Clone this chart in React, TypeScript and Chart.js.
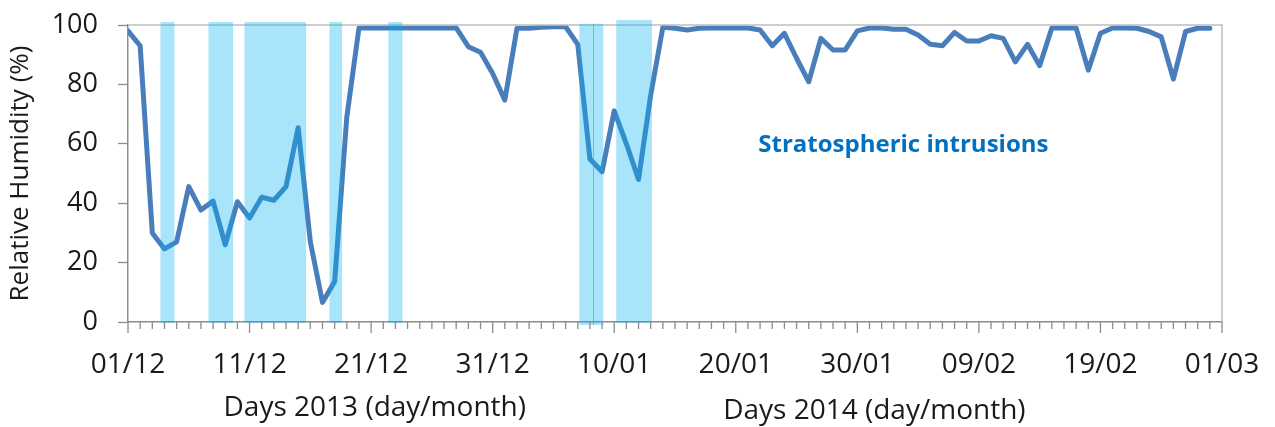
import { useEffect, useRef } from 'react';
import { Chart, registerables } from 'chart.js';

Chart.register(...registerables);

// ---- Data ----
const xTickLabels = ['01/12', '11/12', '21/12', '31/12', '10/01', '20/01', '30/01', '09/02', '19/02', '01/03'];
const yTickValues = [0, 20, 40, 60, 80, 100];

// Daily relative humidity (%), 01/12/2013 .. 28/02/2014
const humidity = [
  98, 93, 30, 24.6, 27, 45.6, 37.7, 40.7, 26, 40.5,
  35, 42, 41, 45.6, 65.4, 27, 6.6, 13.6, 69, 99,
  99, 99, 99, 99, 99, 99, 99, 99, 92.7, 90.8,
  83.7, 74.7, 98.9, 98.9, 99.2, 99.4, 99.4, 93.5, 54.9, 50.6,
  71.1, 60, 48, 76.4, 99.2, 98.9, 98.3, 98.9, 99, 99,
  99, 99, 98.3, 93, 97.2, 88.8, 80.9, 95.5, 91.6, 91.6,
  98, 99, 99, 98.6, 98.6, 96.6, 93.5, 93, 97.5, 94.6,
  94.6, 96.4, 95.5, 87.6, 93.5, 86.3, 99, 99, 99, 84.8,
  97.2, 99, 99, 98.9, 97.8, 96, 81.8, 97.8, 98.9, 98.9,
];

// Stratospheric intrusion periods (in days since 01/12/2013)
const bandStart = [2.67, 6.62, 9.58, 16.57, 21.42, 37.13, 40.17];
const bandEnd = [3.82, 8.65, 14.65, 17.61, 22.57, 39.1, 43.1];
const bandTop = [101, 101, 101, 101, 101, 100.4, 101.7];
const bandBottom = [-0.3, -0.3, -0.3, -0.3, -0.3, -1, -0.3];
const bandDividers = [38.22];

const annotationText = 'Stratospheric intrusions';
const annotationDay = 51.85;
const annotationValue = 59.5;

const xTitles = ['Days 2013 (day/month)', 'Days 2014 (day/month)'];
const xTitleDays = [20.3, 61.4];
const xTitleOffsets = [86, 89];
const yTitle = 'Relative Humidity (%)';

const FONT = "'Open Sans', sans-serif";
const TEXT = '#1a1a1a';

const overlayPlugin = {
  id: 'overlay',
  afterDatasetsDraw(chart: any) {
    const { ctx, chartArea, scales } = chart;
    const xs = scales.x;
    const ys = scales.y;
    const { left, right, top, bottom } = chartArea;
    ctx.save();

    // plot-area border (top & right)
    ctx.strokeStyle = '#BFBFBF';
    ctx.lineWidth = 1.5;
    ctx.beginPath();
    ctx.moveTo(left, top);
    ctx.lineTo(right, top);
    ctx.lineTo(right, bottom);
    ctx.stroke();

    // intrusion bands (drawn over the line, semi-transparent)
    ctx.fillStyle = 'rgba(0,176,240,0.34)';
    bandStart.forEach((s, i) => {
      const x0 = xs.getPixelForValue(s);
      const x1 = xs.getPixelForValue(bandEnd[i]);
      const y0 = ys.getPixelForValue(bandTop[i]);
      const y1 = ys.getPixelForValue(bandBottom[i]);
      ctx.fillRect(x0, y0, x1 - x0, y1 - y0);
    });
    ctx.strokeStyle = 'rgba(0,176,240,0.55)';
    ctx.lineWidth = 1;
    bandDividers.forEach((d) => {
      const px = Math.round(xs.getPixelForValue(d)) + 0.5;
      ctx.beginPath();
      ctx.moveTo(px, ys.getPixelForValue(100.4));
      ctx.lineTo(px, ys.getPixelForValue(-1));
      ctx.stroke();
    });

    // x-axis tick marks: daily minor, 10-day major
    ctx.strokeStyle = '#8C8C8C';
    ctx.lineWidth = 1.3;
    for (let d = 0; d <= 90; d++) {
      const px = xs.getPixelForValue(d);
      const len = d % 10 === 0 ? 11 : 7;
      ctx.beginPath();
      ctx.moveTo(px, bottom);
      ctx.lineTo(px, bottom + len);
      ctx.stroke();
    }

    // annotation
    ctx.fillStyle = '#0070C0';
    ctx.font = `bold 24px ${FONT}`;
    ctx.textAlign = 'left';
    ctx.textBaseline = 'middle';
    ctx.fillText(annotationText, xs.getPixelForValue(annotationDay), ys.getPixelForValue(annotationValue));

    // x-axis titles
    ctx.fillStyle = TEXT;
    ctx.font = `28px ${FONT}`;
    ctx.textAlign = 'center';
    xTitles.forEach((t, i) => {
      ctx.fillText(t, xs.getPixelForValue(xTitleDays[i]), bottom + xTitleOffsets[i]);
    });
    ctx.restore();
  },
};

export default function App() {
  const canvasRef = useRef<HTMLCanvasElement | null>(null);

  useEffect(() => {
    const canvas = canvasRef.current;
    if (!canvas) return;
    const chart = new Chart(canvas, {
      type: 'line',
      data: {
        datasets: [
          {
            data: humidity.map((v, i) => ({ x: i, y: v })),
            borderColor: '#4A7EBB',
            borderWidth: 5,
            pointRadius: 0,
            tension: 0,
            borderJoinStyle: 'round',
            borderCapStyle: 'round',
            fill: false,
          },
        ],
      },
      options: {
        animation: false,
        responsive: false,
        devicePixelRatio: 1,
        layout: { padding: { left: 0, top: 25, right: 53, bottom: 0 } },
        plugins: { legend: { display: false }, tooltip: { enabled: false } },
        scales: {
          x: {
            type: 'linear',
            min: 0,
            max: 90,
            afterFit: (s: any) => {
              s.height = 105;
              s.paddingLeft = 0;
              s.paddingRight = 0;
            },
            afterBuildTicks: (s: any) => {
              const t = [];
              for (let i = 0; i < xTickLabels.length; i++) t.push({ value: i * 10 });
              s.ticks = t;
            },
            ticks: {
              autoSkip: false,
              maxRotation: 0,
              padding: 26,
              color: TEXT,
              font: { family: FONT, size: 28 },
              callback: (v: any) => xTickLabels[Math.round(v / 10)] ?? '',
            },
            grid: { drawOnChartArea: false, drawTicks: false },
            border: { display: true, color: '#8C8C8C', width: 1.5 },
          },
          y: {
            min: 0,
            max: 100,
            afterFit: (s: any) => {
              s.width = 128;
              s.paddingTop = 0;
              s.paddingBottom = 0;
            },
            afterBuildTicks: (s: any) => { s.ticks = yTickValues.map((v) => ({ value: v })); },
            ticks: {
              padding: 20,
              color: TEXT,
              font: { family: FONT, size: 27 },
            },
            grid: { drawOnChartArea: false, drawTicks: true, tickLength: 10, tickColor: '#8C8C8C', tickWidth: 1.3 },
            border: { display: true, color: '#8C8C8C', width: 1.5 },
            title: {
              display: true,
              text: yTitle,
              color: TEXT,
              font: { family: FONT, size: 26 },
              padding: { top: 5, bottom: 0 },
            },
          },
        },
      },
      plugins: [overlayPlugin],
    });
    return () => chart.destroy();
  }, []);

  return (
    <div style={{ position: 'absolute', left: 0, top: 0, width: 1275, height: 427, background: '#fff' }}>
      <canvas ref={canvasRef} width={1275} height={427} />
    </div>
  );
}
